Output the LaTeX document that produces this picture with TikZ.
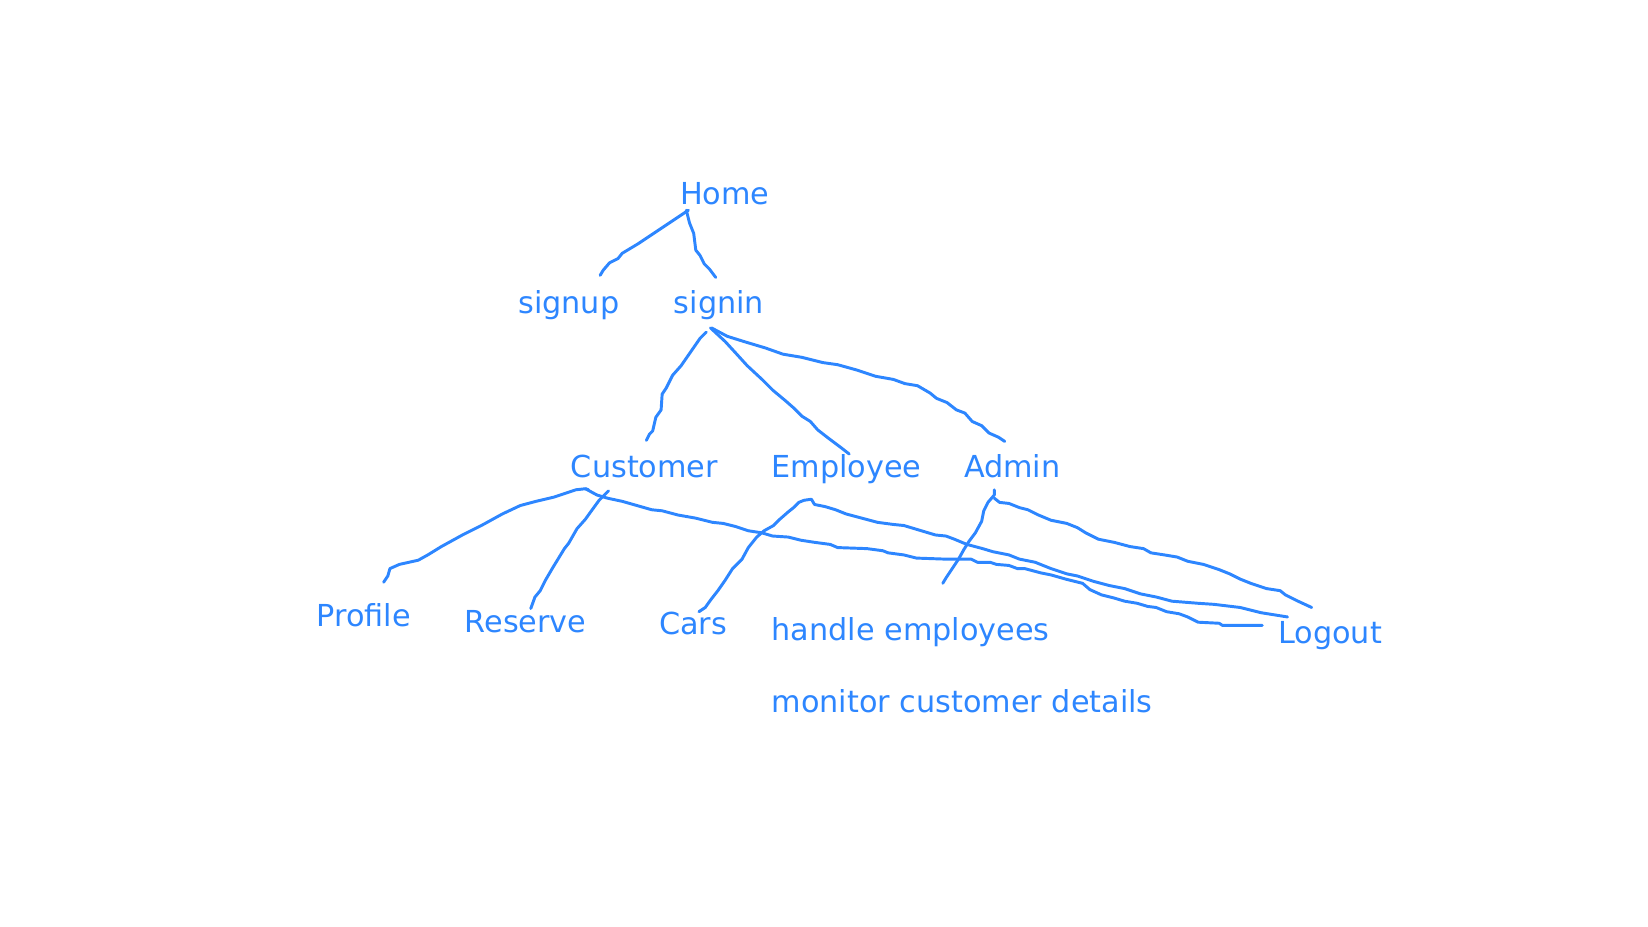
\documentclass[tikz,border=0pt]{standalone}
\usepackage{fontspec}
\setmainfont{DejaVu Sans}
\definecolor{ink}{RGB}{45,134,255}
\begin{document}
\begin{tikzpicture}[x=1pt,y=-1pt,
  lbl/.style={anchor=base west,inner sep=0pt,text=ink,font=\fontsize{28.8}{32}\selectfont},
  stroke/.style={draw=ink,line width=2.8pt,line join=round,line cap=round}]
\useasboundingbox (0,0) rectangle (1568,882);
\node[lbl] (home) at (647,195) {Home};
\node[lbl] (signup) at (493,298) {signup};
\node[lbl] (signin) at (641,298) {signin};
\node[lbl] (customer) at (543,454) {Customer};
\node[lbl] (employee) at (734,454) {Employee};
\node[lbl] (admin) at (917,454) {Admin};
\node[lbl] (profile) at (301,596) {Profile};
\node[lbl] (reserve) at (442,602) {Reserve};
\node[lbl] (cars) at (627,604) {Cars};
\node[lbl] (handle) at (734,609) {handle employees};
\node[lbl] (logout) at (1216,612) {Logout};
\node[lbl] (monitor) at (734,678) {monitor customer details};
% Home -> signup
\draw[stroke] (655,200) -- (640,210) -- (622,222) -- (607,232) -- (592,241) -- (588,246) -- (580,250) -- (574,257) -- (571,262);
% Home -> signin
\draw[stroke] (653,200) -- (656,212) -- (660,222) -- (662,238) -- (666,243) -- (670,251) -- (675,256) -- (681,264);
% signin -> Customer
\draw[stroke] (672,316) -- (666,322) -- (657,335) -- (648,348) -- (640,357) -- (634,369) -- (630,375) -- (629,390) -- (624,397) -- (621,410) -- (618,413) -- (615,419);
% signin -> Employee
\draw[stroke] (676,312) -- (690,325) -- (701,337) -- (711,348) -- (725,361) -- (735,371) -- (747,381) -- (755,388) -- (763,396) -- (771,401) -- (778,409) -- (787,416) -- (799,425) -- (808,432);
% signin -> Admin
\draw[stroke] (677,312) -- (692,320) -- (708,325) -- (728,331) -- (745,337) -- (763,340) -- (783,345) -- (797,347) -- (815,352) -- (833,358) -- (850,361) -- (861,365) -- (873,367) -- (885,374) -- (891,379) -- (901,383) -- (910,390) -- (918,393) -- (925,401) -- (934,405) -- (941,412) -- (950,416) -- (956,420);
% Customer -> Profile
\draw[stroke] (365,554) -- (369,548) -- (371,541) -- (380,537) -- (398,533) -- (407,528) -- (420,520) -- (440,509) -- (458,500) -- (478,489) -- (495,481) -- (510,477) -- (527,473) -- (548,466) -- (557,465) -- (560,466);
% Customer -> Reserve
\draw[stroke] (579,467) -- (570,476) -- (562,487) -- (557,494) -- (549,503) -- (541,517) -- (537,522) -- (526,540) -- (519,552) -- (514,562) -- (509,568) -- (505,579);
% Customer -> Logout
\draw[stroke] (557,465) -- (568,471) -- (578,474) -- (592,477) -- (606,481) -- (620,485) -- (630,486) -- (645,490) -- (662,493) -- (678,497) -- (688,498) -- (700,501) -- (712,505) -- (725,507) -- (735,510) -- (750,511) -- (762,514) -- (775,516) -- (790,518) -- (797,521) -- (825,522) -- (840,524) -- (845,526) -- (860,528) -- (872,531) -- (900,532) -- (924,532) -- (930,535) -- (942,535) -- (948,537) -- (960,538) -- (968,541) -- (975,541) -- (990,545) -- (1000,547) -- (1014,551) -- (1030,555) -- (1037,561) -- (1048,566) -- (1060,569) -- (1070,572) -- (1082,574) -- (1092,577) -- (1100,578) -- (1110,582) -- (1122,584) -- (1130,587) -- (1140,592) -- (1160,593) -- (1163,595) -- (1201,595);
% Cars -> Employee -> Logout
\draw[stroke] (665,582) -- (671,578) -- (676,571) -- (683,562) -- (690,552) -- (697,541) -- (706,532) -- (712,521) -- (720,511) -- (727,505) -- (736,500) -- (742,494) -- (750,487) -- (755,483) -- (760,478) -- (765,476) -- (772,475) -- (775,480) -- (785,482) -- (795,485) -- (805,489) -- (820,493) -- (835,497) -- (850,499) -- (860,500) -- (870,503) -- (880,506) -- (890,509) -- (900,510) -- (908,513) -- (920,518) -- (935,522) -- (945,525) -- (960,528) -- (970,532) -- (985,535) -- (1000,541) -- (1015,546) -- (1025,548) -- (1040,553) -- (1055,557) -- (1070,560) -- (1085,565) -- (1100,568) -- (1115,572) -- (1140,574) -- (1155,575) -- (1180,578) -- (1200,583) -- (1225,587);
% Admin -> handle employees
\draw[stroke] (946,466) -- (946,471) -- (940,478) -- (936,486) -- (934,496) -- (928,507) -- (922,515) -- (917,523) -- (912,532) -- (906,541) -- (900,550) -- (897,555);
% Admin -> Logout
\draw[stroke] (946,474) -- (951,478) -- (960,479) -- (970,483) -- (978,485) -- (988,490) -- (1000,495) -- (1015,498) -- (1025,502) -- (1033,507) -- (1045,513) -- (1060,516) -- (1075,520) -- (1088,522) -- (1095,526) -- (1108,528) -- (1120,530) -- (1130,534) -- (1145,537) -- (1160,542) -- (1170,546) -- (1180,551) -- (1190,555) -- (1205,560) -- (1218,562) -- (1223,566) -- (1235,572) -- (1248,578);
\end{tikzpicture}
\end{document}
